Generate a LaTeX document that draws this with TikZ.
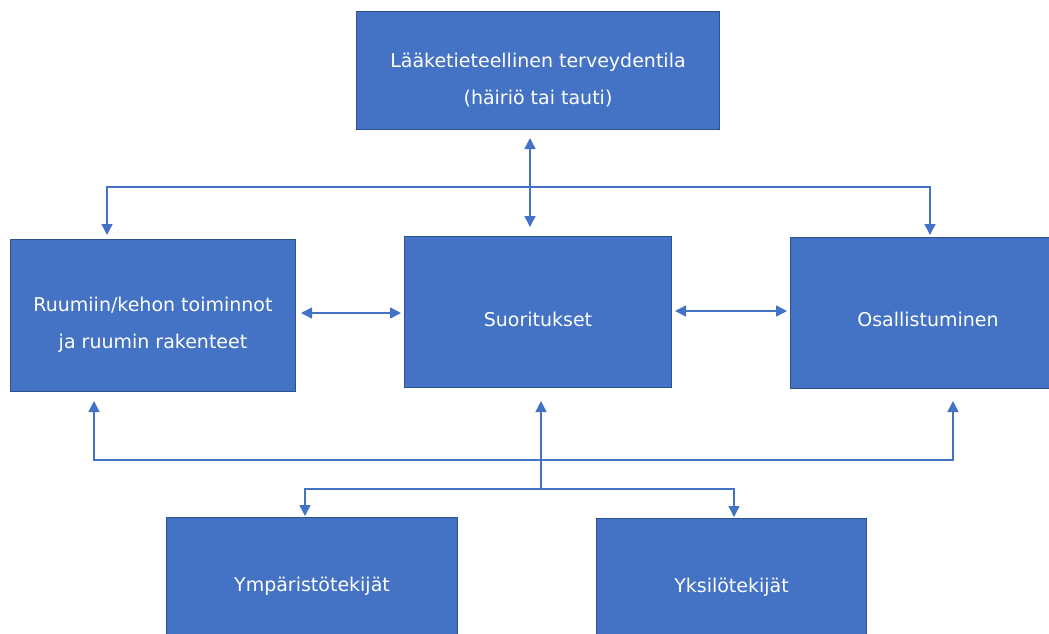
\documentclass[tikz,border=0pt]{standalone}
\usepackage{fontspec}
\setmainfont{DejaVu Sans}
\usetikzlibrary{arrows.meta,calc}
\definecolor{boxfill}{HTML}{4472C4}
\definecolor{boxedge}{HTML}{2F528F}
\definecolor{conn}{HTML}{4472C4}
\newcommand\boxtext[2][-7.5pt]{\raisebox{#1}[\height][\depth]{\begin{tabular}{@{}c@{}}#2\end{tabular}}}
\begin{document}
\begin{tikzpicture}[x=1pt,y=-1pt,
  box/.style={draw=boxedge, line width=1pt, fill=boxfill, text=white,
    font=\fontsize{19}{37}\selectfont, align=center, inner sep=0pt, anchor=north west},
  link/.style={draw=conn, line width=1.4pt},
  tipend/.style={-{Triangle[width=11pt,length=11pt]}},
  dbl/.style={{Triangle[width=11pt,length=11pt]}-{Triangle[width=11pt,length=11pt]}}
]
\useasboundingbox (0,0) rectangle (1049,633);

\node[box, minimum width=363pt, minimum height=118pt] (top) at (356,11)
  {\boxtext[-8pt]{Lääketieteellinen terveydentila\\(häiriö tai tauti)}};
\node[box, minimum width=285pt, minimum height=152pt] (left) at (10,239)
  {\boxtext{Ruumiin/kehon toiminnot\\ja ruumin rakenteet}};
\node[box, minimum width=267pt, minimum height=151pt] (mid) at (404,236)
  {\boxtext{Suoritukset}};
\node[box, minimum width=275pt, minimum height=151pt] (right) at (790,237)
  {\boxtext[-6.5pt]{Osallistuminen}};
\node[box, minimum width=291pt, minimum height=118pt] (bl) at (166,517)
  {\boxtext{Ympäristötekijät}};
\node[box, minimum width=270pt, minimum height=118pt] (br) at (596,518)
  {\boxtext{Yksilötekijät}};

% top vertical double arrow
\coordinate (vx) at (530,0);
\draw[link, dbl, shorten <=8pt, shorten >=9pt] (top.south -| vx) -- (mid.north -| vx);

% branch to left and right
\coordinate (bL) at (107,187);
\coordinate (bR) at (930,187);
\draw[link, dbl, shorten <=4pt, shorten >=2pt]
  (left.north -| bL) -- (bL) -- (bR) -- (right.north -| bR);

% horizontal double arrows
\coordinate (hl) at (0,313);
\coordinate (hr) at (0,311);
\draw[link, dbl, shorten <=5pt, shorten >=3pt] (left.east |- hl) -- (mid.west |- hl);
\draw[link, dbl, shorten <=3pt, shorten >=3pt] (mid.east |- hr) -- (right.west |- hr);

% bottom feedback lines
\coordinate (cL) at (94,460);
\coordinate (cR) at (953,460);
\draw[link, dbl, shorten <=9pt, shorten >=12pt]
  (left.south -| cL) -- (cL) -- (cR) -- (right.south -| cR);

\coordinate (dM) at (541,489);
\draw[link, tipend, shorten >=13pt] (dM) -- (mid.south -| dM);

\coordinate (dL) at (305,489);
\coordinate (dR) at (734,489);
\draw[link, dbl, shorten <=1pt, shorten >=1pt]
  (bl.north -| dL) -- (dL) -- (dR) -- (br.north -| dR);
\end{tikzpicture}
\end{document}
